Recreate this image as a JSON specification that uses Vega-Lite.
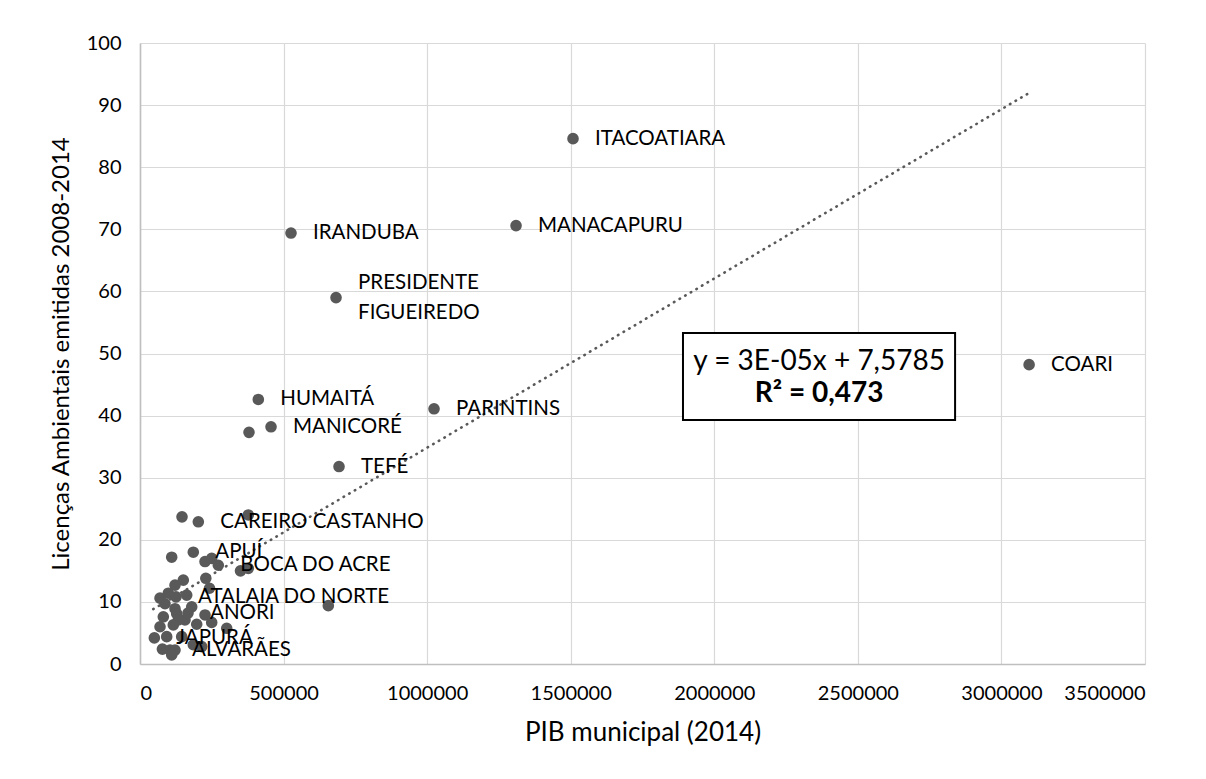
{
  "$schema": "https://vega.github.io/schema/vega-lite/v6.json",
  "width": 1005,
  "height": 621,
  "autosize": {"type": "none"},
  "padding": {"left": 140, "top": 43, "right": 61, "bottom": 115},
  "background": "white",
  "config": {
    "view": {"stroke": null},
    "font": "Lato",
    "axis": {
      "grid": true,
      "gridColor": "#D9D9D9",
      "gridWidth": 1.2,
      "domainColor": "#BFBFBF",
      "domainWidth": 1.6,
      "ticks": false,
      "labelFont": "Lato",
      "labelFontSize": 20,
      "labelColor": "#000000",
      "titleFont": "Lato",
      "titleFontSize": 24,
      "titleFontWeight": "normal",
      "titleColor": "#000000"
    }
  },
  "datasets": {
    "municipios": [
      {"municipio": "ITACOATIARA", "pib": 1508000, "licencas": 84.6},
      {"municipio": "MANACAPURU", "pib": 1309600, "licencas": 70.6},
      {"municipio": "IRANDUBA", "pib": 525900, "licencas": 69.4},
      {"municipio": "PRESIDENTE\nFIGUEIREDO", "pib": 682700, "licencas": 59.0},
      {"municipio": "COARI", "pib": 3096400, "licencas": 48.2},
      {"municipio": "HUMAITÁ", "pib": 412000, "licencas": 42.6},
      {"municipio": "MANICORÉ", "pib": 456300, "licencas": 38.2},
      {"municipio": "", "pib": 379600, "licencas": 37.3},
      {"municipio": "TEFÉ", "pib": 693100, "licencas": 31.8},
      {"municipio": "PARINTINS", "pib": 1024000, "licencas": 41.1},
      {"municipio": "", "pib": 146300, "licencas": 23.7},
      {"municipio": "CAREIRO CASTANHO", "pib": 203100, "licencas": 22.9},
      {"municipio": "", "pib": 377200, "licencas": 24.0},
      {"municipio": "APUÍ", "pib": 185600, "licencas": 18.0},
      {"municipio": "", "pib": 110400, "licencas": 17.2},
      {"municipio": "", "pib": 226400, "licencas": 16.5},
      {"municipio": "", "pib": 249700, "licencas": 17.0},
      {"municipio": "BOCA DO ACRE", "pib": 272700, "licencas": 15.9},
      {"municipio": "", "pib": 350000, "licencas": 15.0},
      {"municipio": "", "pib": 377200, "licencas": 15.4},
      {"municipio": "", "pib": 150800, "licencas": 13.5},
      {"municipio": "", "pib": 229200, "licencas": 13.8},
      {"municipio": "", "pib": 242100, "licencas": 12.2},
      {"municipio": "", "pib": 121900, "licencas": 12.7},
      {"municipio": "", "pib": 98600, "licencas": 11.4},
      {"municipio": "ATALAIA DO NORTE", "pib": 125400, "licencas": 10.8},
      {"municipio": "", "pib": 162700, "licencas": 11.1},
      {"municipio": "", "pib": 69700, "licencas": 10.6},
      {"municipio": "", "pib": 655800, "licencas": 9.4},
      {"municipio": "", "pib": 87100, "licencas": 9.7},
      {"municipio": "", "pib": 180100, "licencas": 9.2},
      {"municipio": "", "pib": 121900, "licencas": 8.9},
      {"municipio": "ANORI", "pib": 167200, "licencas": 8.2},
      {"municipio": "", "pib": 81200, "licencas": 7.6},
      {"municipio": "", "pib": 127800, "licencas": 8.1},
      {"municipio": "", "pib": 226400, "licencas": 7.9},
      {"municipio": "", "pib": 156700, "licencas": 7.1},
      {"municipio": "", "pib": 133400, "licencas": 7.1},
      {"municipio": "", "pib": 249700, "licencas": 6.7},
      {"municipio": "", "pib": 197500, "licencas": 6.4},
      {"municipio": "", "pib": 302000, "licencas": 5.75},
      {"municipio": "", "pib": 69700, "licencas": 6.0},
      {"municipio": "", "pib": 116000, "licencas": 6.3},
      {"municipio": "JAPURÁ", "pib": 50000, "licencas": 4.2},
      {"municipio": "", "pib": 93000, "licencas": 4.4},
      {"municipio": "", "pib": 145200, "licencas": 4.4},
      {"municipio": "", "pib": 185600, "licencas": 3.1},
      {"municipio": "", "pib": 214900, "licencas": 2.8},
      {"municipio": "ALVARÃES", "pib": 104500, "licencas": 2.25},
      {"municipio": "", "pib": 78000, "licencas": 2.4},
      {"municipio": "", "pib": 121900, "licencas": 2.25},
      {"municipio": "", "pib": 110400, "licencas": 1.45}
    ],
    "tendencia": [
      {"pib": 46000, "licencas": 8.83},
      {"pib": 3096400, "licencas": 91.96}
    ],
    "caixa": [
      {"x1": 1891000, "x2": 2838600, "y1": 39.3, "y2": 53.3}
    ],
    "equacao": [
      {"pib": 2365000, "licencas": 48.7, "texto": "y = 3E-05x + 7,5785"},
      {"pib": 2365000, "licencas": 43.4, "texto": "R² = 0,473"}
    ]
  },
  "layer": [
    {
      "data": {"name": "tendencia"},
      "mark": {"type": "line", "color": "#595959", "strokeWidth": 2.6, "strokeDash": [0.5, 6], "strokeCap": "round"},
      "encoding": {
        "x": {"field": "pib", "type": "quantitative", "scale": {"domain": [0, 3500000], "nice": false},
              "axis": {"values": [0, 500000, 1000000, 1500000, 2000000, 2500000, 3000000, 3500000], "format": "d", "labelPadding": 19, "title": "PIB municipal (2014)", "titlePadding": 16, "titleFontSize": 26}},
        "y": {"field": "licencas", "type": "quantitative", "scale": {"domain": [0, 100], "nice": false},
              "axis": {"values": [0, 10, 20, 30, 40, 50, 60, 70, 80, 90, 100], "labelPadding": 19, "title": "Licenças Ambientais emitidas 2008-2014", "titlePadding": 13}}
      }
    },
    {
      "data": {"name": "municipios"},
      "mark": {"type": "circle", "color": "#595959", "opacity": 1, "size": 135},
      "encoding": {
        "x": {"field": "pib", "type": "quantitative"},
        "y": {"field": "licencas", "type": "quantitative"}
      }
    },
    {
      "data": {"name": "municipios"},
      "transform": [{"filter": "datum.municipio != '' && indexof(datum.municipio, '\\n') < 0"}],
      "mark": {"type": "text", "align": "left", "baseline": "middle", "dx": 22, "font": "Lato", "fontSize": 20.5, "color": "#000000"},
      "encoding": {
        "x": {"field": "pib", "type": "quantitative"},
        "y": {"field": "licencas", "type": "quantitative"},
        "text": {"field": "municipio"}
      }
    },
    {
      "data": {"name": "municipios"},
      "transform": [{"filter": "indexof(datum.municipio, '\\n') >= 0"}],
      "mark": {"type": "text", "align": "left", "baseline": "middle", "dx": 22, "dy": -15, "font": "Lato", "fontSize": 20.5, "color": "#000000", "lineBreak": "\n", "lineHeight": 30},
      "encoding": {
        "x": {"field": "pib", "type": "quantitative"},
        "y": {"field": "licencas", "type": "quantitative"},
        "text": {"field": "municipio"}
      }
    },
    {
      "data": {"name": "caixa"},
      "mark": {"type": "rect", "fill": "white", "stroke": "#000000", "strokeWidth": 2},
      "encoding": {
        "x": {"field": "x1", "type": "quantitative"},
        "x2": {"field": "x2"},
        "y": {"field": "y1", "type": "quantitative"},
        "y2": {"field": "y2"}
      }
    },
    {
      "data": {"name": "equacao"},
      "transform": [{"filter": "datum.texto == 'y = 3E-05x + 7,5785'"}],
      "mark": {"type": "text", "align": "center", "baseline": "middle", "font": "Lato", "fontSize": 28, "color": "#000000"},
      "encoding": {
        "x": {"field": "pib", "type": "quantitative"},
        "y": {"field": "licencas", "type": "quantitative"},
        "text": {"field": "texto"}
      }
    },
    {
      "data": {"name": "equacao"},
      "transform": [{"filter": "datum.texto != 'y = 3E-05x + 7,5785'"}],
      "mark": {"type": "text", "align": "center", "baseline": "middle", "font": "Lato", "fontSize": 28, "fontWeight": "bold", "color": "#000000"},
      "encoding": {
        "x": {"field": "pib", "type": "quantitative"},
        "y": {"field": "licencas", "type": "quantitative"},
        "text": {"field": "texto"}
      }
    }
  ]
}
